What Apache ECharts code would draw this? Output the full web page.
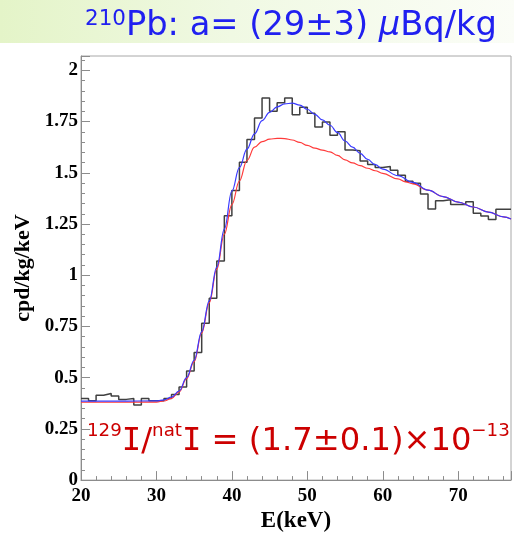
<!DOCTYPE html>
<html><head><meta charset="utf-8">
<script src="https://cdn.jsdelivr.net/npm/echarts@6/dist/echarts.min.js"></script>
<style>html,body{margin:0;padding:0;background:#fff}#c{width:514px;height:538px}</style>
</head><body><div id="c"></div>
<script>
// ---- data ----
const binStart = [20,21,22,23,24,25,26,27,28,29,30,31,32,33,34,35,36,37,38,39,40,41,42,43,44,45,46,47,48,49,50,51,52,53,54,55,56,57,58,59,60,61,62,63,64,65,66,67,68,69,70,71,72,73,74,75,76];
const binWidth = 1;
const counts = [0.398,0.387,0.414,0.423,0.411,0.394,0.398,0.366,0.398,0.387,0.387,0.398,0.418,0.454,0.533,0.623,0.765,0.888,1.07,1.29,1.413,1.552,1.663,1.767,1.865,1.80,1.842,1.865,1.783,1.82,1.791,1.724,1.748,1.683,1.70,1.611,1.607,1.558,1.54,1.526,1.531,1.512,1.488,1.459,1.449,1.396,1.323,1.363,1.368,1.345,1.345,1.358,1.303,1.289,1.272,1.322,1.322];

const fitE = [20,25,30,31,32,33,34,35,36,37,38,39,40,41,42,43,44,45,46,47,48,49,50,51,52,53,54,55,56,57,58,59,60,62,64,66,68,70,72,74,76,77];
const totalFit = [0.385,0.385,0.387,0.392,0.405,0.435,0.50,0.585,0.725,0.875,1.04,1.225,1.41,1.525,1.615,1.69,1.755,1.795,1.822,1.836,1.84,1.83,1.81,1.785,1.758,1.732,1.697,1.655,1.625,1.595,1.565,1.54,1.518,1.486,1.453,1.415,1.384,1.357,1.333,1.308,1.285,1.274];

const bkgE = [20,25,30,31,32,33,34,35,36,37,38,39,40,41,42,43,44,45,46,47,48,49,50,51,52,53,54,55,56,57,58,59,60,62,63,64,66,68,70,72,74,76,77];
const bkgFit = [0.38,0.38,0.381,0.386,0.399,0.43,0.495,0.578,0.718,0.865,1.03,1.2,1.345,1.46,1.56,1.625,1.652,1.664,1.668,1.667,1.66,1.648,1.634,1.62,1.611,1.602,1.585,1.563,1.548,1.535,1.522,1.51,1.497,1.47,1.456,1.446,1.415,1.384,1.357,1.333,1.308,1.285,1.274];

const xRange = [20, 77];
const yRange = [0, 2.07];
const xTickStep = 10;
const yTickStep = 0.25;

const titlePieces = [
  {t:'210', sup:true},
  {t:'Pb: a= (29\u00B13) '},
  {t:'\u03BC', italic:true},
  {t:'Bq/kg'}
];
const notePieces = [
  {t:'129', sup:true},
  {t:'I', fam:'DejaVu Sans Mono'},
  {t:'/'},
  {t:'nat', sup:true},
  {t:'I', fam:'DejaVu Sans Mono'},
  {t:' = (1.7\u00B10.1)\u00D710'},
  {t:'\u221213', sup:true}
];

// ---- rendering ----
const AX = '#8c8c8c';
const SERIF = 'Liberation Serif';
const cv = document.createElement('canvas').getContext('2d');
function measure(t, size, italic, fam){ cv.font = (italic?'italic ':'') + size + 'px "' + fam + '"'; return cv.measureText(t).width; }

function layoutLine(pieces, x0, x1, mainSize, supSize, baseline, supRise, color, fam){
  let w = 0;
  pieces.forEach(p => { w += measure(p.t, p.sup?supSize:mainSize, p.italic, p.fam||fam); });
  const k = (x1 - x0) / w;
  const ms = mainSize * k, ss = supSize * k;
  let x = x0; const els = [];
  pieces.forEach(p => {
    const s = p.sup ? ss : ms;
    const f = p.fam || fam;
    const b = p.sup ? baseline - supRise : baseline;
    els.push({type:'text', silent:true, style:{text:p.t, x:x, y:b - 0.346*s, fill:color,
      font:(p.italic?'italic ':'') + s.toFixed(2) + 'px "' + f + '"', textAlign:'left', verticalAlign:'middle'}});
    x += measure(p.t, s, p.italic, f);
  });
  return els;
}

const graphics = [
  {type:'rect', silent:true, z:-10, shape:{x:0,y:0,width:514,height:43},
   style:{fill:new echarts.graphic.LinearGradient(0,0,1,0,[{offset:0,color:'#e4f4c8'},{offset:0.45,color:'#f0f9e3'},{offset:1,color:'#fbfdf7'}])}}
].concat(
  layoutLine(titlePieces, 85, 497, 33, 21, 38, 11, '#2020f0', 'DejaVu Sans'),
  layoutLine(notePieces, 87, 510, 30, 17, 453, 15, '#cc0000', 'DejaVu Sans')
);

const histData = binStart.map((e,i)=>[e, counts[i]]);
histData.push([binStart[binStart.length-1] + binWidth, counts[counts.length-1]]);

const chart = echarts.init(document.getElementById('c'), null, {renderer:'canvas'});
chart.setOption({
  animation:false,
  backgroundColor:'#ffffff',
  grid:{left:81, right:3, top:56, bottom:52, show:true, borderColor:'#a8a8a8', borderWidth:1, backgroundColor:'transparent'},
  xAxis:{type:'value', min:xRange[0], max:xRange[1], interval:xTickStep,
    name:'E(keV)', nameLocation:'middle', nameGap:27,
    nameTextStyle:{fontFamily:SERIF, fontWeight:'bold', fontSize:23, color:'#000'},
    axisLine:{show:true, onZero:false, lineStyle:{color:AX, width:1}},
    axisTick:{show:true, inside:true, length:9, lineStyle:{color:AX}},
    minorTick:{show:true, splitNumber:5, length:4, lineStyle:{color:AX}},
    axisLabel:{fontFamily:SERIF, fontWeight:'bold', fontSize:19, color:'#000', margin:6, showMaxLabel:false},
    splitLine:{show:false}, minorSplitLine:{show:false}},
  yAxis:{type:'value', min:yRange[0], max:yRange[1], interval:yTickStep,
    name:'cpd/kg/keV', nameLocation:'middle', nameGap:47, nameRotate:90,
    nameTextStyle:{fontFamily:SERIF, fontWeight:'bold', fontSize:22, color:'#000'},
    axisLine:{show:true, onZero:false, lineStyle:{color:AX, width:1}},
    axisTick:{show:true, inside:true, length:9, lineStyle:{color:AX}},
    minorTick:{show:true, splitNumber:5, length:4, lineStyle:{color:AX}},
    axisLabel:{fontFamily:SERIF, fontWeight:'bold', fontSize:19, color:'#000', margin:3, showMaxLabel:false},
    splitLine:{show:false}, minorSplitLine:{show:false}},
  series:[
    {type:'line', name:'data', data:histData, step:'end', symbol:'none', clip:true,
     lineStyle:{color:'#404040', width:1.5}, z:2},
    {type:'line', name:'bkg', data:bkgE.map((e,i)=>[e,bkgFit[i]]), smooth:0.4, smoothMonotone:'x', symbol:'none', clip:true,
     lineStyle:{color:'#ff3a3a', width:1.2}, z:3},
    {type:'line', name:'fit', data:fitE.map((e,i)=>[e,totalFit[i]]), smooth:0.4, smoothMonotone:'x', symbol:'none', clip:true,
     lineStyle:{color:'#3a3aff', width:1.2}, z:4}
  ],
  graphic:graphics
});
</script></body></html>
